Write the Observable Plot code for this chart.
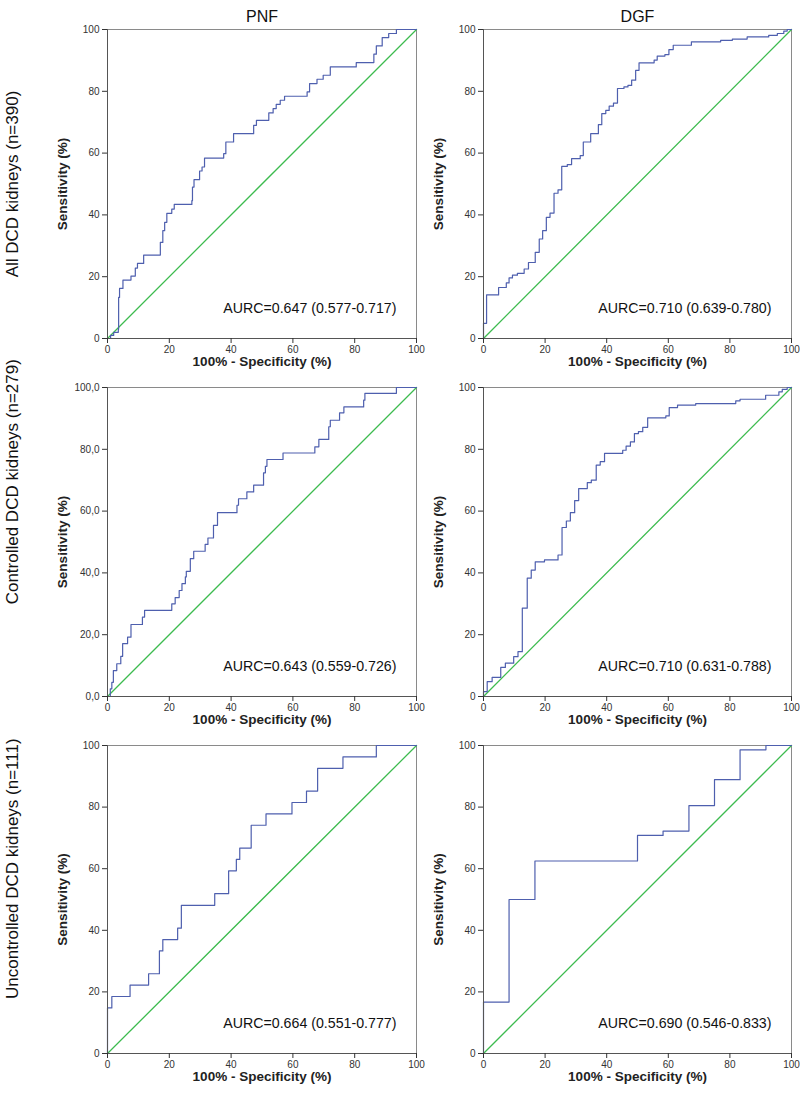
<!DOCTYPE html>
<html>
<head>
<meta charset="utf-8">
<script src="https://cdn.jsdelivr.net/npm/d3@7"></script>
<script src="https://cdn.jsdelivr.net/npm/@observablehq/plot@0.6"></script>
<style>
  html, body { margin: 0; padding: 0; background: #fff; }
  #root { position: relative; width: 800px; height: 1093px; overflow: hidden; background: #fff; }
  #root > div { position: absolute; }
</style>
</head>
<body>
<div id="root"></div>
<script>
// ---- tick labels ----
const tickValues = [0, 20, 40, 60, 80, 100];
const tickLabels = ["0", "20", "40", "60", "80", "100"];
const tickLabelsDecimal = ["0,0", "20,0", "40,0", "60,0", "80,0", "100,0"];

// ---- categories ----
const columnHeaders = ["PNF", "DGF"];
const rowLabels = ["All DCD kidneys (n=390)", "Controlled DCD kidneys (n=279)", "Uncontrolled DCD kidneys (n=111)"];
const aurcLabels = [
  "AURC=0.647 (0.577-0.717)", "AURC=0.710 (0.639-0.780)",
  "AURC=0.643 (0.559-0.726)", "AURC=0.710 (0.631-0.788)",
  "AURC=0.664 (0.551-0.777)", "AURC=0.690 (0.546-0.833)"
];
const xLabel = "100% - Specificity (%)";
const yLabel = "Sensitivity (%)";

// ---- ROC step vertices (100% - specificity, sensitivity) ----
const pnfAllFpr = [0,1,2,3.5,3.6,3.9,5,7.6,9,9.7,11.7,17.1,17.9,18.5,19.2,20.8,21.6,27.3,27.5,28,29.8,30.6,31.4,37.6,38.3,40.8,47.3,48.2,52.2,53.6,54.6,55.9,57.3,64.6,65.4,67.8,69.8,72.1,80.5,86.2,87,88.9,91,93.5,100];
const pnfAllTpr = [0,1,2,3,13.3,16.2,18.9,20.2,22.8,24.3,27,31.1,34.9,37.6,40.5,41.9,43.4,44.6,49,51.4,54.2,55.5,58.4,59.8,63.6,66.3,69,70.6,73,74.4,75.8,77.1,78.4,79.8,82.5,83.9,85.2,87.9,89.3,92,94.7,97.4,98.7,100,100];

const dgfAllFpr = [0,0,1,4.9,7.4,8.3,9.4,11,13.2,14.6,16.8,18.1,19.2,20.4,21.6,22.9,24.2,25.4,27.2,28.6,31.4,32.4,34.8,37.3,38.4,39.7,40.8,42.2,43.5,45.6,46.9,48.1,49.4,50.5,55.4,56.4,58.9,60.2,61.6,67.5,77,80.8,85.6,92.6,95.4,97.5,98.6,100];
const dgfAllTpr = [0,4.9,14.1,16.5,18,19.6,20.5,21.1,22.5,24.6,27.9,32.2,34.9,39.2,40.6,47,48.1,55.7,56.3,58.2,59.2,63.6,66.3,69.2,72.8,73.8,75.2,76.2,80.9,81.4,81.9,83.6,86.8,89.2,90.1,91.4,91.9,93.5,94.9,96,96.5,96.9,97.6,98.1,98.7,99.5,100,100];

const pnfCtrlFpr = [0,0.9,1.4,1.9,3,4.3,4.9,6.5,7.6,11.3,12,20.8,21.9,23.2,24.1,25.2,25.5,26.8,27.9,31.6,32.5,34.3,35.6,41.9,42.4,45.1,47.3,50.5,51.1,51.6,56.8,67.1,68.4,71.6,72.1,75.1,76.5,82.9,83.3,93.5,100];
const pnfCtrlTpr = [0,2.5,4.6,8.4,10.6,13,17.1,19.2,23.3,25.7,27.9,30,32,34.3,36.5,38.7,40.5,44.6,47,49.2,51.3,55.4,59.5,61.9,64,66.2,68.4,72.4,74.5,76.7,78.8,80.8,83.2,87.3,89.4,91.8,93.7,95.9,98.1,100,100];

const dgfCtrlFpr = [0,0,1.2,2.8,5.6,7.1,9.8,11.2,12.6,14.2,15.5,16.8,19.8,24.2,25.5,26.9,28.2,29.6,30.9,33.7,35,36.6,37.9,39.3,45.2,46.3,47.7,49,50.3,51.7,53.3,59.2,60.3,63,68.9,81.9,83.3,91.6,95.9,97,98.6,100];
const dgfCtrlTpr = [0,1.6,4.8,6.2,9.4,10.8,12.9,14.5,28.6,38.3,40.9,43.6,44.2,45.8,54.7,56.8,59.5,63.4,67.3,69.2,70,74.9,76,78.7,79.7,81,82.4,85.1,85.7,87.1,90.2,90.8,93.5,94.3,94.8,95.7,96.2,97.5,98.6,99.4,100,100];

const pnfUnctrlFpr = [0,0,1.4,7.3,13.3,16.8,17.9,22.7,23.9,34.7,39.2,41.7,42.8,46.5,51.3,59.7,64.4,68,76.2,87,100];
const pnfUnctrlTpr = [0,14.8,18.5,22.2,25.9,33.3,37,40.7,48.1,51.9,59.3,63,66.7,74.1,77.8,81.5,85.2,92.6,96.3,100,100];

const dgfUnctrlFpr = [0,0,8.3,16.7,50,58.3,66.7,75,83.3,91.7,100];
const dgfUnctrlTpr = [0,16.7,50,62.5,70.8,72.2,80.5,88.9,98.6,100,100];

const diagonal = [0, 100];

// ---- layout ----
const BLUE = "#4e5fae";
const GREEN = "#3dbb4f";
const FONT = "'Liberation Sans', Arial, Helvetica, sans-serif";

const colBox = [{left: 0, width: 430, marginLeft: 107, marginRight: 14},
                {left: 430, width: 370, marginLeft: 53, marginRight: 9}];
const rowBox = [{top: 0, height: 378, marginTop: 29},
                {top: 378, height: 358, marginTop: 9},
                {top: 736, height: 357, marginTop: 9}];
// position of rotated labels, expressed in each panel's own data units
const yLabelX = -14.6;
const rowLabelX = -30.7;
const rowLabelY = [50, 69.5, 60];

const curves = [
  [pnfAllFpr, pnfAllTpr], [dgfAllFpr, dgfAllTpr],
  [pnfCtrlFpr, pnfCtrlTpr], [dgfCtrlFpr, dgfCtrlTpr],
  [pnfUnctrlFpr, pnfUnctrlTpr], [dgfUnctrlFpr, dgfUnctrlTpr]
];

const root = document.getElementById("root");

for (let r = 0; r < 3; r++) {
  for (let c = 0; c < 2; c++) {
    const idx = r * 2 + c;
    const [fpr, tpr] = curves[idx];
    const pts = fpr.map((x, i) => ({x, y: tpr[i]}));
    const yLabels = (r === 1 && c === 0) ? tickLabelsDecimal : tickLabels;
    const cb = colBox[c], rb = rowBox[r];

    const marks = [
      Plot.frame({stroke: "#8a8a8a"}),
      Plot.line(diagonal, {x: d => d, y: d => d, stroke: GREEN, strokeWidth: 1.3}),
      Plot.line(pts, {x: "x", y: "y", curve: "step-after", stroke: BLUE, strokeWidth: 1.2}),
      Plot.ruleX([0], {stroke: "#555"}),
      Plot.ruleY([0], {stroke: "#555"}),
      Plot.axisX({ticks: tickValues, tickFormat: d => tickLabels[tickValues.indexOf(d)], tickSize: 5, tickPadding: 2, label: null, fontSize: 10}),
      Plot.axisY({ticks: tickValues, tickFormat: d => yLabels[tickValues.indexOf(d)], tickSize: 5, tickPadding: 3, label: null, fontSize: 10}),
      Plot.text([xLabel], {frameAnchor: "bottom", dy: 27, text: d => d, fontWeight: "bold", fontSize: 13.5, fill: "#222"}),
      Plot.text([yLabel], {x: yLabelX, y: 50, rotate: -90, text: d => d, fontWeight: "bold", fontSize: 13.5, fill: "#222"}),
      Plot.text([aurcLabels[idx]], {x: 93.5, y: 9.7, text: d => d, textAnchor: "end", lineAnchor: "middle", fontSize: 14.2, fill: "#111"})
    ];
    if (r === 0) {
      marks.push(Plot.text([columnHeaders[c]], {frameAnchor: "top", dy: -19, text: d => d, fontSize: 16, fill: "#111"}));
    }
    if (c === 0) {
      marks.push(Plot.text([rowLabels[r]], {x: rowLabelX, y: rowLabelY[r], rotate: -90, text: d => d, fontSize: 17, fill: "#111"}));
    }

    const chart = Plot.plot({
      width: cb.width,
      height: rb.height,
      marginLeft: cb.marginLeft,
      marginRight: cb.marginRight,
      marginTop: rb.marginTop,
      marginBottom: 40,
      x: {domain: [0, 100]},
      y: {domain: [0, 100]},
      style: {fontFamily: FONT, fontSize: "10px", color: "#333", background: "transparent", overflow: "visible"},
      marks
    });
    const holder = document.createElement("div");
    holder.style.left = cb.left + "px";
    holder.style.top = rb.top + "px";
    holder.appendChild(chart);
    root.appendChild(holder);
  }
}
</script>
</body>
</html>
